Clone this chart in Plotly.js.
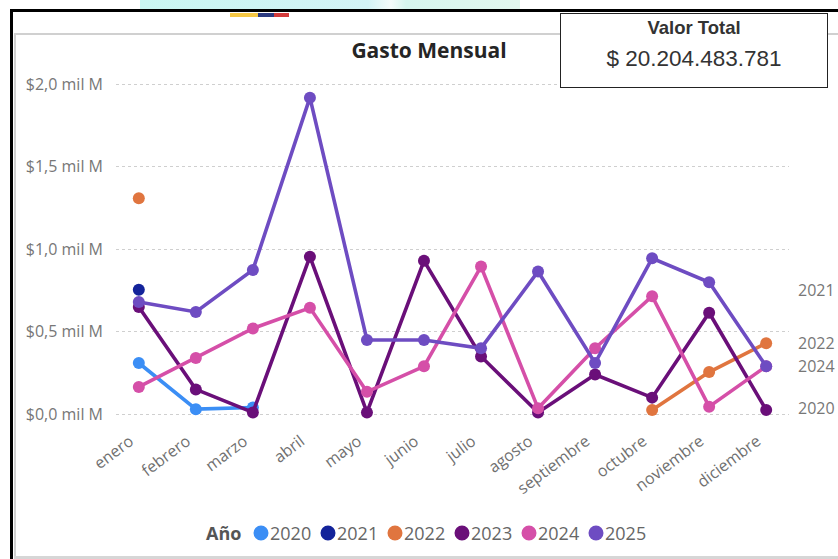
<!DOCTYPE html>
<html>
<head>
<meta charset="utf-8">
<script src="https://cdn.plot.ly/plotly-3.0.1.min.js"></script>
<style>
  html, body { margin: 0; padding: 0; background: #fff; }
  #wrap { position: relative; width: 838px; height: 559px; overflow: hidden; background: #fff; }
  #chart { position: absolute; left: 0; top: 0; width: 838px; height: 559px; }
  .ov { position: absolute; pointer-events: none; }
</style>
</head>
<body>
<div id="wrap">
  <div class="ov" style="left:140px;top:0;width:380px;height:9px;background:linear-gradient(90deg,#c9f6f2 0%,#d3f3f6 60%,#f4fbfb 66%,#d6f5ee 70%,#e2f7ee 100%);"></div>
  <div id="chart"></div>
  <!-- outer frames -->
  <div class="ov" style="left:10px;top:9px;width:828px;height:3px;background:#000;"></div>
  <div class="ov" style="left:10px;top:9px;width:3px;height:550px;background:#000;"></div>
  <div class="ov" style="left:14px;top:33px;width:546px;height:2px;background:#d0d0d0;"></div>
  <div class="ov" style="left:828px;top:33px;width:10px;height:2px;background:#d0d0d0;"></div>
  <div class="ov" style="left:14px;top:33px;width:2px;height:526px;background:#d0d0d0;"></div>
  <div class="ov" style="left:14px;top:556px;width:824px;height:3px;background:#d6d6d6;"></div>
  <!-- flag bar -->
  <div class="ov" style="left:230px;top:13px;width:28px;height:4px;background:#f6c844;"></div>
  <div class="ov" style="left:258px;top:13px;width:16px;height:4px;background:#2b3a80;"></div>
  <div class="ov" style="left:274px;top:13px;width:15px;height:4px;background:#d23a3a;"></div>
  <!-- value card -->
  <div class="ov" style="left:560px;top:13px;width:266px;height:73px;border:1.5px solid #222;background:#fff;font-family:'Liberation Sans',Arial,sans-serif;text-align:center;">
    <div style="font-weight:bold;font-size:18.5px;color:#333;margin-top:3px;">Valor Total</div>
    <div style="font-size:22.5px;color:#333;margin-top:7px;">$ 20.204.483.781</div>
  </div>
</div>
<script>
const months = ["enero","febrero","marzo","abril","mayo","junio","julio","agosto","septiembre","octubre","noviembre","diciembre"];
const years = ["2020","2021","2022","2023","2024","2025"];
const colors = ["#3b8ef5","#13239a","#e0753f","#6a0f79","#d54fa8","#6e4cc2"];

// values in "mil M" (thousand millions)
const v2020 = [0.31, 0.03, 0.04, null, null, null, null, null, null, null, null, null];
const v2021 = [0.755, null, null, null, null, null, null, null, null, null, null, null];
const v2022 = [1.31, null, null, null, null, null, null, null, null, 0.025, 0.255, 0.43];
const v2023 = [0.65, 0.15, 0.01, 0.955, 0.01, 0.93, 0.35, 0.01, 0.24, 0.10, 0.615, 0.025];
const v2024 = [0.165, 0.34, 0.52, 0.645, 0.135, 0.29, 0.895, 0.035, 0.40, 0.715, 0.045, 0.29];
const v2025 = [0.68, 0.62, 0.875, 1.92, 0.45, 0.45, 0.40, 0.865, 0.31, 0.945, 0.80, 0.29];

const yTickVals = [0, 0.5, 1.0, 1.5, 2.0];
const yTickText = ["$0,0 mil M","$0,5 mil M","$1,0 mil M","$1,5 mil M","$2,0 mil M"];

const legendTitle = "Año";
// end labels shown on the right
const endLabelYears = ["2021","2022","2024","2020"];

const FONT = "Open Sans, sans-serif";
const W = 838, H = 559, ML = 116, MR = 49, MT = 68, MB = 135;
const PW = W - ML - MR, PH = H - MT - MB;
const px2x = p => (p - ML) / PW;
const px2y = p => (H - MB - p) / PH;

const series = [v2020, v2021, v2022, v2023, v2024, v2025];
const traces = series.map((vals, i) => ({
  type: "scatter", mode: "lines+markers", x: months, y: vals, name: years[i],
  connectgaps: false, showlegend: false,
  line: { color: colors[i], width: 3.6 },
  marker: { color: colors[i], size: 12 },
  hoverinfo: "skip"
}));

const annotations = endLabelYears.map(yr => {
  const vals = series[years.indexOf(yr)];
  let last = null;
  vals.forEach(v => { if (v !== null) last = v; });
  return {
    xref: "paper", yref: "y", x: px2x(796), y: last, xanchor: "left", yanchor: "middle",
    text: yr, showarrow: false, font: { family: FONT, size: 16, color: "#777" }
  };
});

// custom legend (compact, Power BI style)
const shapes = [];
const legY = 533;
annotations.push({
  xref: "paper", yref: "paper", x: px2x(204), y: px2y(legY), xanchor: "left", yanchor: "middle",
  text: "<b>" + legendTitle + "</b>", showarrow: false, font: { family: FONT, size: 18, color: "#555" }
});
years.forEach((yr, i) => {
  const cx = 261 + 67 * i;
  shapes.push({
    type: "circle", xref: "paper", yref: "paper",
    x0: px2x(cx - 7.5), x1: px2x(cx + 7.5), y0: px2y(legY + 7.5), y1: px2y(legY - 7.5),
    fillcolor: colors[i], line: { width: 0 }
  });
  annotations.push({
    xref: "paper", yref: "paper", x: px2x(cx + 7), y: px2y(legY), xanchor: "left", yanchor: "middle",
    text: yr, showarrow: false, font: { family: FONT, size: 18, color: "#666" }
  });
});

const layout = {
  width: W, height: H,
  paper_bgcolor: "rgba(0,0,0,0)", plot_bgcolor: "rgba(0,0,0,0)",
  margin: { l: ML, r: MR, t: MT, b: MB },
  title: {
    text: "<b>Gasto Mensual</b>", xref: "container", yref: "container",
    x: 429/838, xanchor: "center", y: 1 - 51/559, yanchor: "middle",
    font: { family: FONT, size: 21, color: "#252525" }
  },
  xaxis: {
    type: "category", range: [-0.4, 11.4], showgrid: false, zeroline: false, showline: false,
    tickangle: -37, tickfont: { family: FONT, size: 16, color: "#707070" },
    ticks: "", ticklabelstandoff: 4, ticklabelshift: -9
  },
  yaxis: {
    range: [-0.06, 2.1], tickvals: yTickVals, ticktext: yTickText,
    showgrid: true, gridcolor: "#cfcfcf", griddash: "dot", gridwidth: 1, zeroline: false,
    tickfont: { family: FONT, size: 16, color: "#777" },
    ticklabelstandoff: 12
  },
  showlegend: false,
  shapes: shapes,
  annotations: annotations
};

Plotly.newPlot("chart", traces, layout, { displayModeBar: false, staticPlot: true });
</script>
</body>
</html>
